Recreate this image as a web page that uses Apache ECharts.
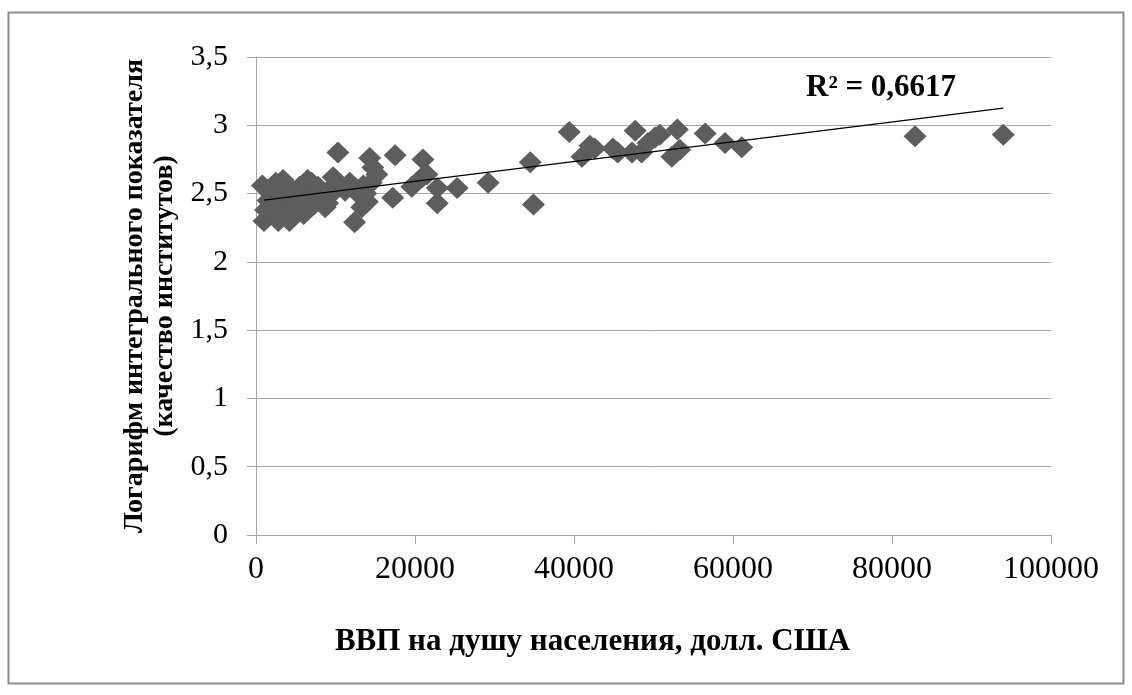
<!DOCTYPE html>
<html>
<head>
<meta charset="utf-8">
<script src="https://cdn.jsdelivr.net/npm/echarts@6/dist/echarts.min.js"></script>
<style>
  html, body { margin: 0; padding: 0; background: #fff; }
  #chart { width: 1132px; height: 695px; }
</style>
</head>
<body>
<div id="chart"></div>
<script>
// GDP per capita (USD) for each country
const gdpPerCapita = [
  800, 1000, 1200, 1500, 1800, 2000, 2200, 2500, 2800, 3000, 3400, 3600, 3800, 4000,
  4200, 4500, 5000, 5200, 5500, 6000, 6300, 6500, 6900, 7000, 7300, 7800, 8000, 8200,
  8700, 9000, 9200, 9600, 9700, 10300, 10800, 11200, 11800, 12400, 12800, 13300, 13500,
  13800, 14000, 14300, 14500, 14700, 15200, 17200, 17500, 19600, 20900, 21000, 21500,
  22800, 22800, 25300, 29200, 34500, 34900, 39400, 41000, 42000, 42600, 44900, 45500,
  47300, 47700, 48500, 49300, 50200, 50800, 52300, 53000, 53300, 56500, 59000, 61100,
  82900, 94000
];
// Log of the integral institutional quality index
const institutionsLog = [
  2.56, 2.30, 2.38, 2.45, 2.50, 2.55, 2.35, 2.58, 2.30, 2.42, 2.60, 2.35, 2.50, 2.55,
  2.30, 2.38, 2.45, 2.40, 2.55, 2.35, 2.45, 2.60, 2.50, 2.58, 2.42, 2.55, 2.50, 2.45,
  2.40, 2.43, 2.48, 2.55, 2.62, 2.80, 2.55, 2.52, 2.58, 2.29, 2.50, 2.40, 2.56,
  2.50, 2.44, 2.76, 2.58, 2.69, 2.64, 2.47, 2.78, 2.55, 2.62, 2.75, 2.64,
  2.54, 2.43, 2.54, 2.58, 2.73, 2.42, 2.95, 2.77, 2.85, 2.83, 2.83, 2.80,
  2.80, 2.96, 2.80, 2.87, 2.91, 2.93, 2.77, 2.97, 2.82, 2.94, 2.87, 2.84,
  2.92, 2.93
];
// Linear trend line end points
const trendX = [1000, 94000];
const trendY = [2.452, 3.126];
const rSquaredText = 'R² = 0,6617';

const xTitle = 'ВВП на душу населения, долл. США';
const yTitle = 'Логарифм интегрального показателя\n(качество институтов)';

const points = gdpPerCapita.map((x, i) => [x, institutionsLog[i]]);
const trend = trendX.map((x, i) => [x, trendY[i]]);

const serif = '"Liberation Serif", "Times New Roman", serif';
const gridColor = '#a6a6a6';

const chart = echarts.init(document.getElementById('chart'), null, { renderer: 'canvas' });
chart.setOption({
  animation: false,
  backgroundColor: '#ffffff',
  grid: { left: 256, right: 81, top: 57, bottom: 160 },
  xAxis: {
    type: 'value',
    min: 0, max: 100000, interval: 20000,
    name: xTitle,
    nameLocation: 'middle',
    nameGap: 91,
    nameTextStyle: {
      fontFamily: serif, fontSize: 31, fontWeight: 'bold', color: '#000',
      padding: [0, 122, 0, 0]
    },
    axisLine: { show: true, onZero: false, lineStyle: { color: gridColor, width: 1 } },
    axisTick: { show: true, inside: false, length: 9, lineStyle: { color: gridColor } },
    axisLabel: {
      fontFamily: serif, fontSize: 32, color: '#000', margin: 19,
      formatter: v => String(v)
    },
    splitLine: { show: false }
  },
  yAxis: {
    type: 'value',
    min: 0, max: 3.5, interval: 0.5,
    name: yTitle,
    nameLocation: 'middle',
    nameRotate: 90,
    nameGap: 76,
    nameTextStyle: { fontFamily: serif, fontSize: 28, fontWeight: 'bold', color: '#000', lineHeight: 30 },
    axisLine: { show: true, lineStyle: { color: gridColor, width: 1 } },
    axisTick: { show: true, inside: false, length: 9, lineStyle: { color: gridColor } },
    axisLabel: {
      fontFamily: serif, fontSize: 30, color: '#000', margin: 28,
      formatter: v => String(v).replace('.', ',')
    },
    splitLine: { show: true, lineStyle: { color: gridColor, width: 1 } }
  },
  series: [
    {
      type: 'scatter',
      data: points,
      symbol: 'diamond',
      symbolSize: [23, 22],
      itemStyle: { color: '#5d5d5d', opacity: 1 },
      z: 2
    },
    {
      type: 'line',
      data: trend,
      symbol: 'none',
      lineStyle: { color: '#000', width: 1.2 },
      z: 3
    }
  ],
  graphic: [
    {
      type: 'rect',
      shape: { x: 8.5, y: 12.5, width: 1115, height: 671 },
      style: { fill: null, stroke: '#8c8c8c', lineWidth: 2 },
      z: -1
    },
    {
      type: 'text',
      left: 806, top: 72,
      style: { text: rSquaredText, font: 'bold 31px ' + serif, fill: '#000' }
    }
  ]
});
</script>
</body>
</html>
